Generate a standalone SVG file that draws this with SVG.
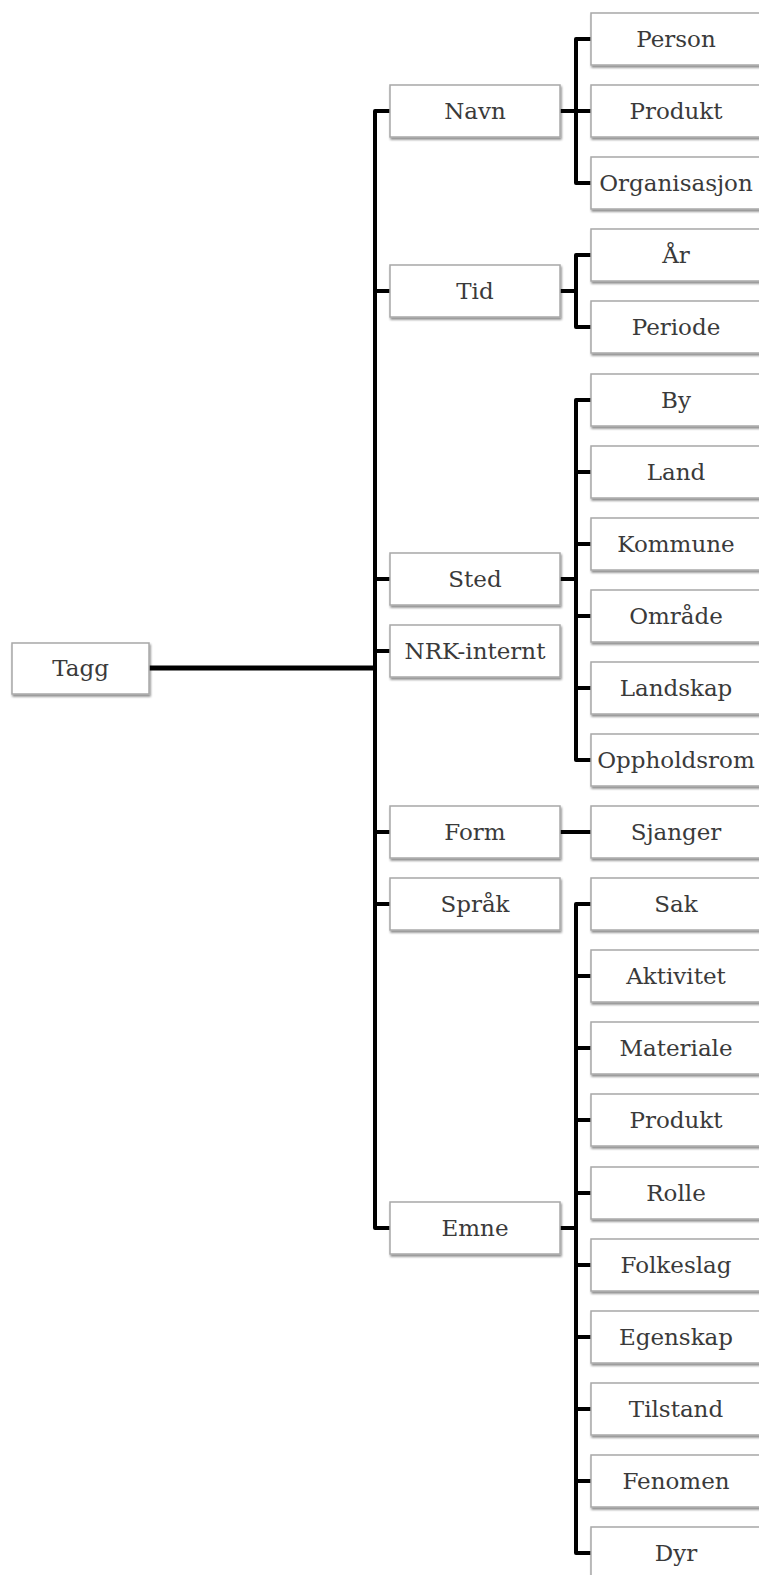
<svg xmlns="http://www.w3.org/2000/svg" width="759" height="1575" viewBox="0 0 759 1575">
<style>
.b{fill:#fff;stroke:#a8a8a8;stroke-width:1.5;filter:url(#sh)}
.t{font-family:"DejaVu Serif","Liberation Serif",serif;font-size:23px;fill:#3a3a3a;text-anchor:middle}
.c{fill:none;stroke:#000;stroke-width:4;stroke-linejoin:round}
</style>
<defs>
<filter id="sh" x="-10%" y="-20%" width="120%" height="150%">
<feDropShadow dx="1" dy="2" stdDeviation="1.2" flood-color="#000" flood-opacity="0.45"/>
</filter>
</defs>
<rect width="759" height="1575" fill="#fff"/>
<g id="connectors">
<path class="c" style="stroke-width:5" d="M149 668 H375"/>
<path class="c" d="M390 111 H375 V1228 H390"/>
<path class="c" d="M375 291 H390 M375 579 H390 M375 651 H390 M375 832 H390 M375 904 H390"/>
<path class="c" d="M560 111 H576 M591 39 H576 V183 H591 M576 111 H591"/>
<path class="c" d="M560 291 H576 M591 255 H576 V327 H591"/>
<path class="c" d="M560 579 H576 M591 400 H576 V760 H591 M576 472 H591 M576 544 H591 M576 616 H591 M576 688 H591"/>
<path class="c" d="M560 832 H591"/>
<path class="c" d="M560 1228 H576 M591 904 H576 V1553 H591 M576 976 H591 M576 1048 H591 M576 1120 H591 M576 1193 H591 M576 1265 H591 M576 1337 H591 M576 1409 H591 M576 1481 H591"/>
</g>
<g id="tagg"><rect class="b" x="12" y="643" width="137" height="51"/><text class="t" x="80.5" y="676">Tagg</text></g>
<g id="navn"><rect class="b" x="390" y="85" width="170" height="52"/><text class="t" x="475" y="119">Navn</text></g>
<g id="tid"><rect class="b" x="390" y="265" width="170" height="52"/><text class="t" x="475" y="299">Tid</text></g>
<g id="sted"><rect class="b" x="390" y="553" width="170" height="52"/><text class="t" x="475" y="587">Sted</text></g>
<g id="nrk"><rect class="b" x="390" y="625" width="170" height="52"/><text class="t" x="475" y="659">NRK-internt</text></g>
<g id="form"><rect class="b" x="390" y="806" width="170" height="52"/><text class="t" x="475" y="840">Form</text></g>
<g id="sprak"><rect class="b" x="390" y="878" width="170" height="52"/><text class="t" x="475" y="912">Språk</text></g>
<g id="emne"><rect class="b" x="390" y="1202" width="170" height="52"/><text class="t" x="475" y="1236">Emne</text></g>
<g id="person"><rect class="b" x="591" y="13" width="172" height="52"/><text class="t" x="676" y="47">Person</text></g>
<g id="produkt1"><rect class="b" x="591" y="85" width="172" height="52"/><text class="t" x="676" y="119">Produkt</text></g>
<g id="organisasjon"><rect class="b" x="591" y="157" width="172" height="52"/><text class="t" x="676" y="191">Organisasjon</text></g>
<g id="ar"><rect class="b" x="591" y="229" width="172" height="52"/><text class="t" x="676" y="263">År</text></g>
<g id="periode"><rect class="b" x="591" y="301" width="172" height="52"/><text class="t" x="676" y="335">Periode</text></g>
<g id="by"><rect class="b" x="591" y="374" width="172" height="52"/><text class="t" x="676" y="408">By</text></g>
<g id="land"><rect class="b" x="591" y="446" width="172" height="52"/><text class="t" x="676" y="480">Land</text></g>
<g id="kommune"><rect class="b" x="591" y="518" width="172" height="52"/><text class="t" x="676" y="552">Kommune</text></g>
<g id="omrade"><rect class="b" x="591" y="590" width="172" height="52"/><text class="t" x="676" y="624">Område</text></g>
<g id="landskap"><rect class="b" x="591" y="662" width="172" height="52"/><text class="t" x="676" y="696">Landskap</text></g>
<g id="oppholdsrom"><rect class="b" x="591" y="734" width="172" height="52"/><text class="t" x="676" y="768">Oppholdsrom</text></g>
<g id="sjanger"><rect class="b" x="591" y="806" width="172" height="52"/><text class="t" x="676" y="840">Sjanger</text></g>
<g id="sak"><rect class="b" x="591" y="878" width="172" height="52"/><text class="t" x="676" y="912">Sak</text></g>
<g id="aktivitet"><rect class="b" x="591" y="950" width="172" height="52"/><text class="t" x="676" y="984">Aktivitet</text></g>
<g id="materiale"><rect class="b" x="591" y="1022" width="172" height="52"/><text class="t" x="676" y="1056">Materiale</text></g>
<g id="produkt2"><rect class="b" x="591" y="1094" width="172" height="52"/><text class="t" x="676" y="1128">Produkt</text></g>
<g id="rolle"><rect class="b" x="591" y="1167" width="172" height="52"/><text class="t" x="676" y="1201">Rolle</text></g>
<g id="folkeslag"><rect class="b" x="591" y="1239" width="172" height="52"/><text class="t" x="676" y="1273">Folkeslag</text></g>
<g id="egenskap"><rect class="b" x="591" y="1311" width="172" height="52"/><text class="t" x="676" y="1345">Egenskap</text></g>
<g id="tilstand"><rect class="b" x="591" y="1383" width="172" height="52"/><text class="t" x="676" y="1417">Tilstand</text></g>
<g id="fenomen"><rect class="b" x="591" y="1455" width="172" height="52"/><text class="t" x="676" y="1489">Fenomen</text></g>
<g id="dyr"><rect class="b" x="591" y="1527" width="172" height="52"/><text class="t" x="676" y="1561">Dyr</text></g>
</svg>
